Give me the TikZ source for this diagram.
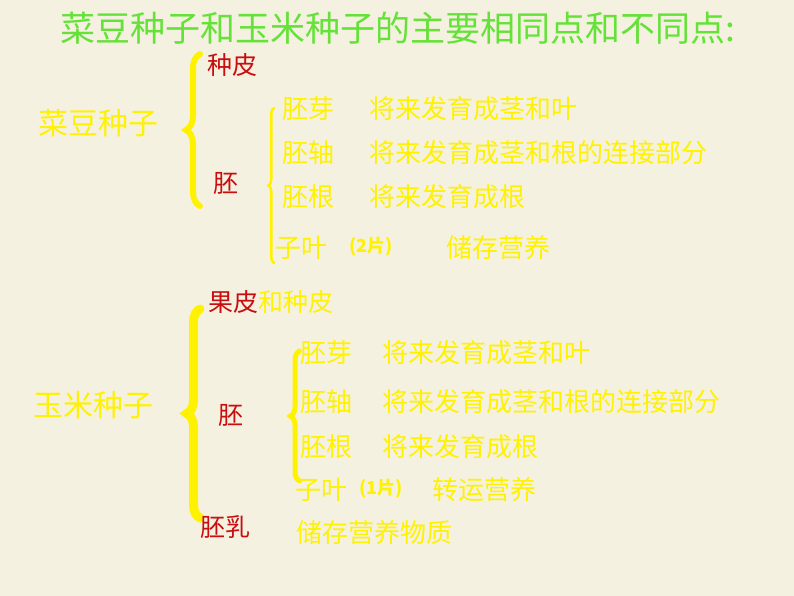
\documentclass[tikz,border=0pt]{standalone}
\usepackage{fontspec}
\setmainfont{Noto Sans CJK SC}
\usepackage{tikz}
\usetikzlibrary{decorations.pathreplacing}
\usepackage{xcolor}
\definecolor{paper}{RGB}{245,241,225}
\definecolor{titlegreen}{RGB}{100,226,56}
\definecolor{partred}{RGB}{200,14,14}
\newcommand{\fs}[1]{\fontsize{#1}{#1}\selectfont}

\begin{document}
\begin{tikzpicture}[x=1pt,y=-1pt,
    every node/.style={anchor=west,inner sep=0pt},
    ttl/.style={text=titlegreen,font=\fs{35}},
    seed/.style={text=yellow,font=\fs{30}},
    part/.style={text=partred,font=\fs{25}},
    item/.style={text=yellow,font=\fs{26}},
    cnt/.style={text=yellow,font=\bfseries\fs{18}},
    curly/.style 2 args={draw=yellow,line width=#1,line cap=round,decorate,decoration={brace,amplitude=#2}}]
    \fill[paper] (0,0) rectangle (794,596);
    \node[ttl] (title) at (60,28) {菜豆种子和玉米种子的主要相同点和不同点:};

    \node[seed] (bean) at (38,123) {菜豆种子};
    \coordinate (b1t) at (200,54);
    \coordinate (b1b) at (200,206);
    \draw[curly={6pt}{14pt}] (b1b) -- (b1t);
    \node[part] (bcoat) at (207,65) {种皮};
    \node[part] (bemb) at (213,183) {胚};
    \coordinate (b2t) at (274,108);
    \coordinate (b2b) at (274,263);
    \draw[curly={2.5pt}{5.5pt}] (b2b) -- (b2t);
    \node[item] (bplumule) at (282,109) {胚芽};
    \node[item] (bplumuleT) at (369,109) {将来发育成茎和叶};
    \node[item] (baxis) at (282,153) {胚轴};
    \node[item] (baxisT) at (369,153) {将来发育成茎和根的连接部分};
    \node[item] (bradicle) at (282,197) {胚根};
    \node[item] (bradicleT) at (369,197) {将来发育成根};
    \node[item] (bcot) at (275,248) {子叶};
    \node[cnt] (bcotN) at (349,247) {(2片)};
    \node[item] (bcotT) at (446,248) {储存营养};

    \node[seed] (corn) at (33,405) {玉米种子};
    \coordinate (c1t) at (200,309);
    \coordinate (c1b) at (200,518);
    \draw[curly={9pt}{13pt}] (c1b) -- (c1t);
    \node[part] (ccoat) at (208,302) {果皮\textcolor{yellow}{和种皮}};
    \node[part] (cemb) at (218,415) {胚};
    \node[part] (cendo) at (200,527) {胚乳};
    \node[item] (cendoT) at (296,533) {储存营养物质};
    \coordinate (c2t) at (299.5,351);
    \coordinate (c2b) at (299.5,481);
    \draw[curly={5pt}{9pt}] (c2b) -- (c2t);
    \node[item] (cplumule) at (300,353) {胚芽};
    \node[item] (cplumuleT) at (382,353) {将来发育成茎和叶};
    \node[item] (caxis) at (300,402) {胚轴};
    \node[item] (caxisT) at (382,402) {将来发育成茎和根的连接部分};
    \node[item] (cradicle) at (300,447) {胚根};
    \node[item] (cradicleT) at (382,447) {将来发育成根};
    \node[item] (ccot) at (295,490) {子叶};
    \node[cnt] (ccotN) at (359,489) {(1片)};
    \node[item] (ccotT) at (432,490) {转运营养};
\end{tikzpicture}
\end{document}
